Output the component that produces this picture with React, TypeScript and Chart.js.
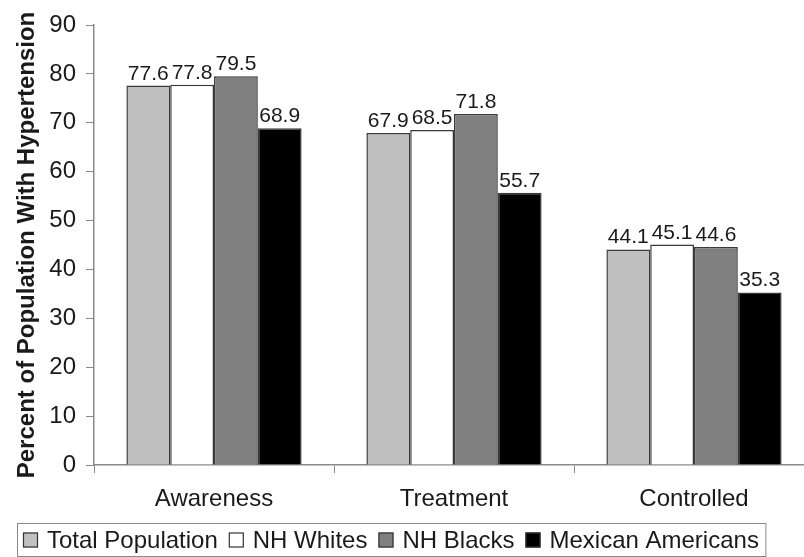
import React, { useEffect, useRef } from "react";
import { Chart, registerables } from "chart.js";

Chart.register(...registerables);

const categories = ["Awareness", "Treatment", "Controlled"];
const seriesNames = ["Total Population", "NH Whites", "NH Blacks", "Mexican Americans"];
const totalPopulation = [77.6, 67.9, 44.1];
const nhWhites = [77.8, 68.5, 45.1];
const nhBlacks = [79.5, 71.8, 44.6];
const mexicanAmericans = [68.9, 55.7, 35.3];
const seriesColors = ["#c0c0c0", "#ffffff", "#808080", "#000000"];
const yTicks = [0, 10, 20, 30, 40, 50, 60, 70, 80, 90];
const yTitle = "Percent of Population With Hypertension";

const FONT = "'Liberation Sans', Arial, sans-serif";
const TEXT = "#1a1a1a";

const valueLabels = {
  id: "valueLabels",
  afterDatasetsDraw(chart: any) {
    const ctx = chart.ctx;
    ctx.save();
    ctx.font = `21px ${FONT}`;
    ctx.fillStyle = TEXT;
    ctx.textAlign = "center";
    ctx.textBaseline = "alphabetic";
    chart.data.datasets.forEach((ds: any, i: number) => {
      const meta = chart.getDatasetMeta(i);
      meta.data.forEach((bar: any, j: number) => {
        ctx.fillText(ds.data[j].toFixed(1), bar.x, bar.y - 6);
      });
    });
    ctx.restore();
  },
};

const boxedLegend = {
  id: "boxedLegend",
  afterDraw(chart: any) {
    const ctx = chart.ctx;
    ctx.save();
    ctx.font = `24px ${FONT}`;
    const top = 523.5;
    const h = 33;
    const left = 17.5;
    const sq = 15;
    let x = 23;
    const cy = top + h / 2;
    const items = chart.data.datasets.map((ds: any) => ({
      label: ds.label,
      color: ds.backgroundColor,
    }));
    let total = x;
    items.forEach((it: any, i: number) => {
      total += sq + 9 + ctx.measureText(it.label).width + (i < items.length - 1 ? 11 : 0);
    });
    const right = total + 7;
    ctx.fillStyle = "#ffffff";
    ctx.fillRect(left, top, right - left, h);
    ctx.strokeStyle = "#8a8a8a";
    ctx.lineWidth = 1;
    ctx.strokeRect(left, top, right - left, h);
    ctx.textBaseline = "middle";
    ctx.textAlign = "left";
    items.forEach((it: any) => {
      ctx.fillStyle = it.color;
      ctx.fillRect(x, cy - sq / 2, sq, sq);
      ctx.strokeStyle = "#333";
      ctx.lineWidth = 1.2;
      ctx.strokeRect(x + 0.5, cy - sq / 2 + 0.5, sq - 1, sq - 1);
      ctx.fillStyle = TEXT;
      ctx.fillText(it.label, x + sq + 9, cy + 1);
      x += sq + 9 + ctx.measureText(it.label).width + 11;
    });
    ctx.restore();
  },
};

export default function App() {
  const ref = useRef<HTMLCanvasElement | null>(null);
  useEffect(() => {
    if (!ref.current) return;
    const seriesData = [totalPopulation, nhWhites, nhBlacks, mexicanAmericans];
    const chart = new Chart(ref.current, {
      type: "bar",
      data: {
        labels: categories,
        datasets: seriesNames.map((name, i) => ({
          label: name,
          data: seriesData[i],
          backgroundColor: seriesColors[i],
          borderColor: "#3a3a3a",
          borderWidth: 1.5,
          barPercentage: 1,
          categoryPercentage: 0.73,
        })),
      },
      options: {
        responsive: false,
        animation: false,
        layout: { padding: { left: 0, right: 16, top: 25, bottom: 34 } },
        plugins: {
          legend: { display: false },
          tooltip: { enabled: false },
        },
        scales: {
          x: {
            grid: {
              offset: true,
              drawOnChartArea: false,
              drawTicks: true,
              tickLength: 8,
              color: "#8a8a8a",
            },
            border: { color: "#8a8a8a", width: 1.5 },
            ticks: {
              font: { family: FONT, size: 24 },
              color: TEXT,
              padding: 12,
            },
            afterFit(scale: any) {
              scale.height = 58;
            },
          },
          y: {
            min: 0,
            max: 90,
            afterBuildTicks(scale: any) {
              scale.ticks = yTicks.map((v) => ({ value: v }));
            },
            grid: {
              drawOnChartArea: false,
              drawTicks: true,
              tickLength: 8,
              color: "#8a8a8a",
            },
            border: { color: "#8a8a8a", width: 1.5 },
            ticks: {
              font: { family: FONT, size: 24 },
              color: TEXT,
              padding: 10,
            },
            title: {
              display: true,
              text: yTitle,
              font: { family: FONT, size: 24, weight: "bold" },
              color: TEXT,
              padding: { top: 13, bottom: 0 },
            },
            afterFit(scale: any) {
              scale.width = 94;
            },
          },
        },
      },
      plugins: [valueLabels, boxedLegend],
    });
    return () => chart.destroy();
  }, []);
  return (
    <div
      style={{
        position: "absolute",
        left: 0,
        top: 0,
        width: 804,
        height: 557,
        overflow: "hidden",
        background: "#fff",
      }}
    >
      <canvas ref={ref} width={830} height={557} />
    </div>
  );
}
